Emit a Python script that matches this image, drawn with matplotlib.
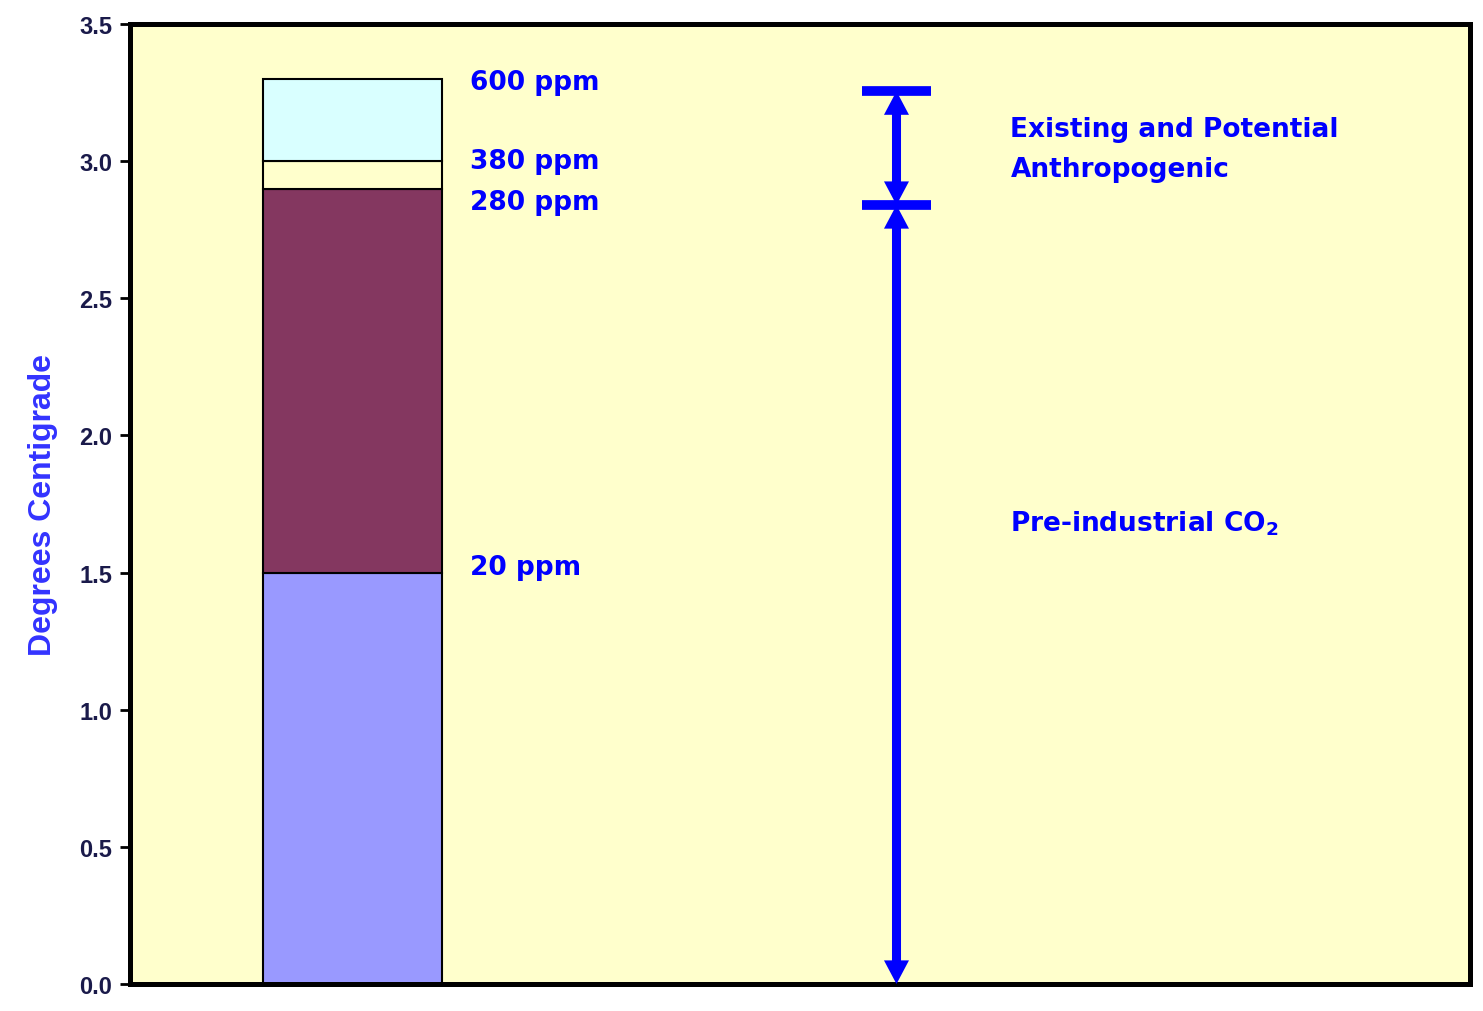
import matplotlib.pyplot as plt

# Dados
segment_bottoms = [0.0, 1.5, 2.9, 3.0]
segment_tops = [1.5, 2.9, 3.0, 3.3]
segment_colors = ["#9999FF", "#843760", "#FFFFCC", "#D9FFFF"]

ppm_labels = ["20 ppm", "280 ppm", "380 ppm", "600 ppm"]
ppm_label_y = [1.52, 2.85, 3.0, 3.29]

bracket_levels = [0.0, 2.84, 3.255]
bracket_texts = ["Pre-industrial CO$_\\mathbf{2}$", "Existing and Potential\nAnthropogenic"]
bracket_text_y = [1.68, 3.045]

yticks = [0.0, 0.5, 1.0, 1.5, 2.0, 2.5, 3.0, 3.5]

blue = "#0000FF"
navy = "#1A1A4A"

fig = plt.figure(figsize=(14.83, 10.12), dpi=100)
ax = fig.add_axes([130 / 1483, 27 / 1012, 1340 / 1483, 960 / 1012])
ax.set_facecolor("#FFFFCC")
ax.set_xlim(0, 1)
ax.set_ylim(0, 3.5)

bar_x = 0.166
bar_w = 0.134
for b, t, c in zip(segment_bottoms, segment_tops, segment_colors):
    ax.bar(bar_x, t - b, bottom=b, width=bar_w, color=c, edgecolor="black",
           linewidth=1.5, zorder=2)

text_x = 0.254
for lab, y in zip(ppm_labels, ppm_label_y):
    ax.text(text_x, y, lab, color=blue, fontsize=19, fontweight="bold",
            va="center", ha="left", family="DejaVu Sans")

# Setas duplas: haste + pontas triangulares
arrow_x = 0.572
cap_w = 0.026
head = 0.08  # comprimento da ponta em unidades de dados
head_style = "-|>,head_length=17,head_width=9"
for y0, y1 in zip(bracket_levels[:-1], bracket_levels[1:]):
    ax.plot([arrow_x, arrow_x], [y0 + head * 0.9, y1 - head * 0.9], color=blue,
            lw=6.5, solid_capstyle="butt", zorder=3)
    for tip, base in [(y0, y0 + head), (y1, y1 - head)]:
        ax.annotate("", xy=(arrow_x, tip), xytext=(arrow_x, base),
                    arrowprops=dict(arrowstyle=head_style, color=blue, lw=0,
                                    mutation_scale=1, shrinkA=0, shrinkB=0),
                    zorder=4)
for y in bracket_levels[1:]:
    ax.plot([arrow_x - cap_w, arrow_x + cap_w], [y, y], color=blue, lw=7,
            solid_capstyle="butt", zorder=3)

for txt, y in zip(bracket_texts, bracket_text_y):
    ax.text(0.657, y, txt, color=blue, fontsize=19, fontweight="bold",
            va="center", ha="left", family="DejaVu Sans", linespacing=1.7)

ax.set_yticks(yticks)
ax.set_yticklabels([f"{v:.1f}" for v in yticks], fontsize=17, fontweight="bold",
                   color=navy, family="Liberation Sans")
ax.set_xticks([])
ax.tick_params(axis="y", direction="out", length=7, width=2, pad=6)

for s in ax.spines.values():
    s.set_linewidth(3.6)
    s.set_color("black")

ax.set_ylabel("Degrees Centigrade", fontsize=23, fontweight="bold", color="#3333FF",
              family="Liberation Sans")
ax.yaxis.set_label_coords(-0.054, 0.5)

fig.savefig("out.png", dpi=100)
